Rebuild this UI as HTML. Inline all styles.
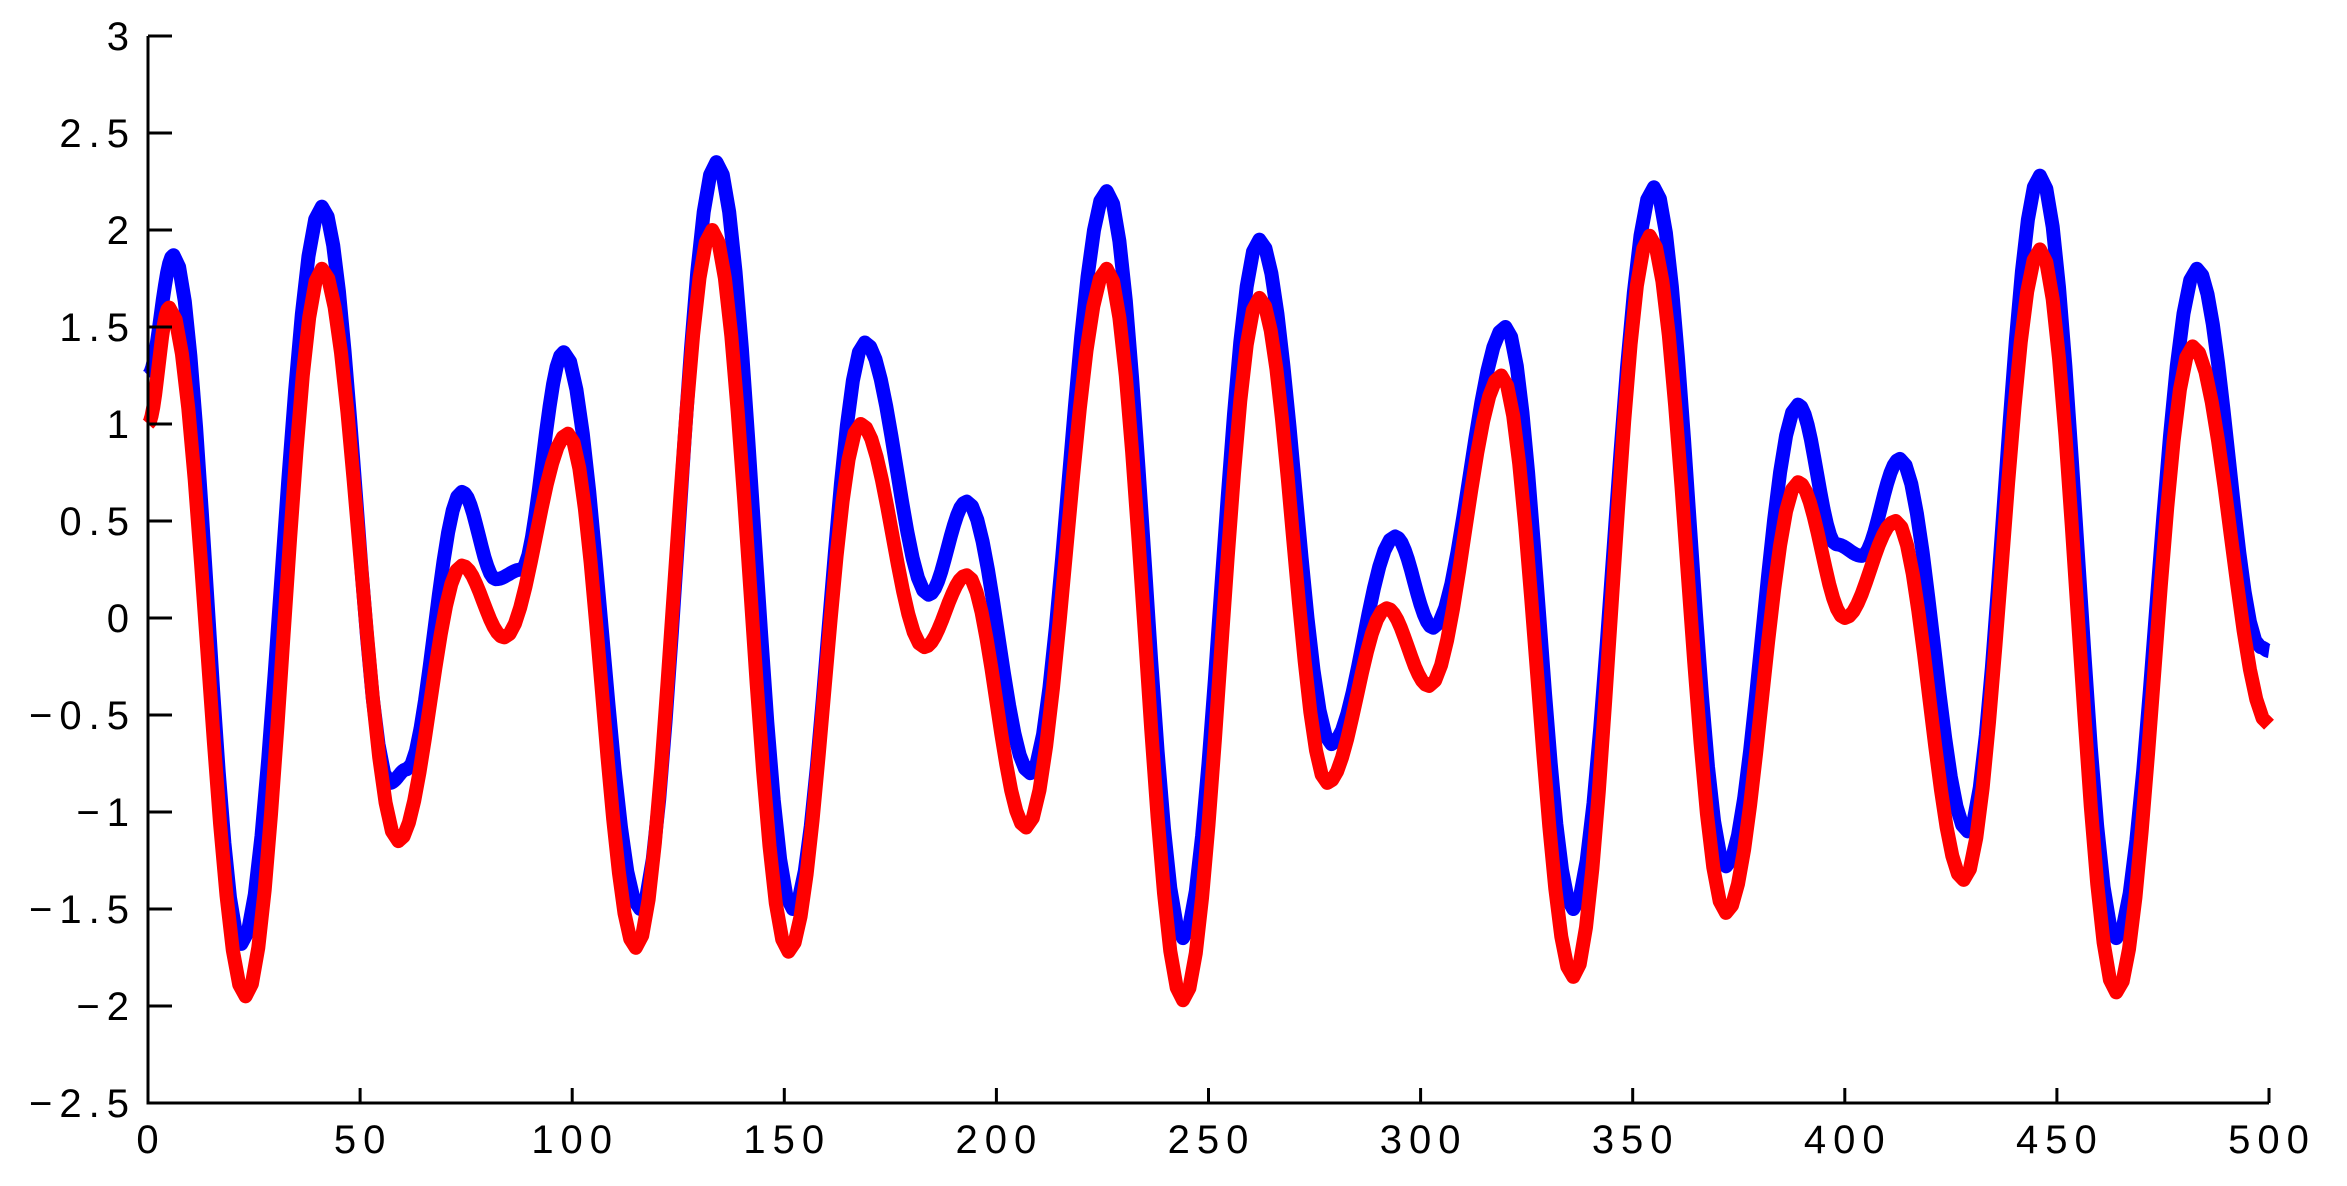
<!DOCTYPE html>
<html><head><meta charset="utf-8"><style>
html,body{margin:0;padding:0;background:#fff;}
svg{display:block;}
text{font-family:"Liberation Sans",sans-serif;font-size:40px;letter-spacing:7px;fill:#000;}
</style></head><body>
<svg id="chart" width="2347" height="1186" viewBox="0 0 2347 1186" xmlns="http://www.w3.org/2000/svg">
<g id="series"></g>
<g id="axes"></g>
</svg>
<script>
const blueT = [0,6,22,41,57,61,74,82,88,98,116,134,152,169,184,193,208,226,244,262,279,294,303,320,336,355,372,389,398,404,413,429,446,464,483,498,500];
const blueV = [1.25,1.87,-1.68,2.12,-0.85,-0.78,0.65,0.2,0.25,1.37,-1.5,2.35,-1.5,1.42,0.12,0.6,-0.8,2.2,-1.65,1.95,-0.65,0.42,-0.05,1.5,-1.5,2.22,-1.28,1.1,0.38,0.32,0.82,-1.1,2.28,-1.65,1.8,-0.15,-0.17];
const redT = [0,5,23,41,59,74,84,99,115,133,151,168,183,193,207,226,244,262,278,292,302,319,336,354,372,389,400,412,428,446,464,482,500];
const redV = [1.0,1.6,-1.95,1.8,-1.15,0.27,-0.1,0.95,-1.7,2.0,-1.72,1.0,-0.15,0.22,-1.08,1.8,-1.97,1.65,-0.85,0.05,-0.35,1.25,-1.85,1.97,-1.52,0.7,0.0,0.5,-1.35,1.9,-1.93,1.4,-0.55];
const xTicks = [0,50,100,150,200,250,300,350,400,450,500];
const yTicks = [-2.5,-2,-1.5,-1,-0.5,0,0.5,1,1.5,2,2.5,3];
const yTickLabels = ["\u22122.5","\u22122","\u22121.5","\u22121","\u22120.5","0","0.5","1","1.5","2","2.5","3"];

const X0=148, X1=2269, Y0=1103, Y1=36;
const xs = t => X0 + (t/500)*(X1-X0);
const ys = v => Y0 - ((v+2.5)/5.5)*(Y0-Y1);
const NS = "http://www.w3.org/2000/svg";

function pathFor(T,V){
  let d = "M"+xs(T[0]).toFixed(1)+","+ys(V[0]).toFixed(1);
  for(let i=0;i<T.length-1;i++){
    const n=12;
    for(let k=1;k<=n;k++){
      const f=k/n, e=(1-Math.cos(Math.PI*f))/2;
      const t=T[i]+(T[i+1]-T[i])*f, v=V[i]+(V[i+1]-V[i])*e;
      d+=" L"+xs(t).toFixed(1)+","+ys(v).toFixed(1);
    }
  }
  return d;
}
const sg=document.getElementById('series');
const pb=document.createElementNS(NS,'path');
pb.setAttribute('d',pathFor(blueT,blueV));
pb.setAttribute('fill','none');pb.setAttribute('stroke','#0000ff');pb.setAttribute('stroke-width','14');pb.setAttribute('stroke-linejoin','round');


sg.appendChild(pb);
const pr=document.createElementNS(NS,'path');
pr.setAttribute('d',pathFor(redT,redV));
pr.setAttribute('fill','none');pr.setAttribute('stroke','#ff0000');pr.setAttribute('stroke-width','14');pr.setAttribute('stroke-linejoin','round');


sg.appendChild(pr);

const ax=document.getElementById('axes');
const axp=document.createElementNS(NS,'path');
axp.setAttribute('d',`M${X0},${Y1} L${X0},${Y0} L${X1},${Y0}`);
axp.setAttribute('fill','none');axp.setAttribute('stroke','#000');axp.setAttribute('stroke-width','3');


ax.appendChild(axp);
xTicks.forEach(t=>{
  const l=document.createElementNS(NS,'line');
  l.setAttribute('x1',xs(t));l.setAttribute('x2',xs(t));l.setAttribute('y1',Y0);l.setAttribute('y2',Y0-15);
  l.setAttribute('stroke','#000');l.setAttribute('stroke-width','3');
  
  
  ax.appendChild(l);
  const tx=document.createElementNS(NS,'text');
  tx.setAttribute('x',xs(t)+3);tx.setAttribute('y',Y0+50);tx.setAttribute('text-anchor','middle');
  tx.textContent=String(t);
  
  
  ax.appendChild(tx);
});
yTicks.forEach((v,i)=>{
  const l=document.createElementNS(NS,'line');
  l.setAttribute('x1',X0);l.setAttribute('x2',X0+24);l.setAttribute('y1',ys(v));l.setAttribute('y2',ys(v));
  l.setAttribute('stroke','#000');l.setAttribute('stroke-width','3');
  
  
  ax.appendChild(l);
  const tx=document.createElementNS(NS,'text');
  tx.setAttribute('x',X0-12);tx.setAttribute('y',ys(v)+14);tx.setAttribute('text-anchor','end');
  tx.textContent=yTickLabels[i];
  
  
  ax.appendChild(tx);
});
</script>
</body></html>
